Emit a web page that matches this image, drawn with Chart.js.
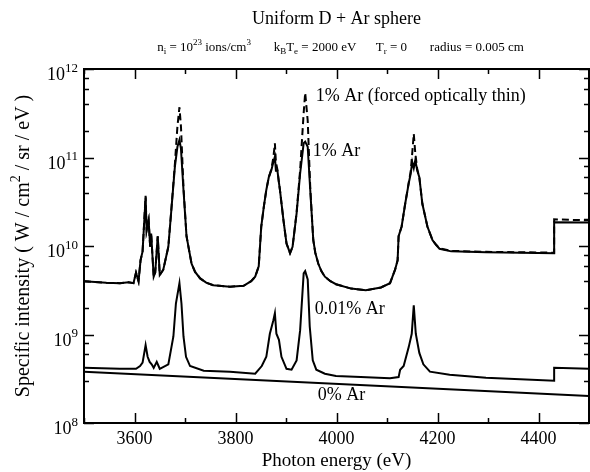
<!DOCTYPE html>
<html>
<head>
<meta charset="utf-8">
<script src="https://cdn.jsdelivr.net/npm/chart.js@4.4.0/dist/chart.umd.min.js"></script>
<style>
  html, body { margin: 0; padding: 0; background: #fff; }
  canvas { display: block; }
</style>
</head>
<body>
<canvas id="grafico" width="590" height="472"></canvas>
<script>
// 1% Ar: energias (eV) e intensidades (W / cm^2 / sr / eV)
const energias1 = [3500, 3544, 3571, 3588, 3598, 3603, 3608, 3612, 3616, 3622, 3624, 3628, 3631, 3633, 3638, 3641, 3646, 3650, 3657, 3667,
  3673, 3680, 3685, 3689, 3692, 3697, 3703, 3713, 3720, 3730, 3742, 3756, 3789, 3816, 3831, 3839, 3846, 3851, 3856, 3861,
  3866, 3871, 3875, 3878, 3880, 3883, 3886, 3888, 3895, 3901, 3908, 3913, 3921, 3928, 3935, 3938, 3943, 3948, 3954, 3958,
  3964, 3970, 3977, 3988, 3999, 4029, 4058, 4088, 4106, 4116, 4121, 4123, 4129, 4136, 4143, 4147, 4150, 4153, 4156, 4160,
  4164, 4170, 4180, 4190, 4197, 4204, 4227, 4296, 4431, 4431, 4500];
const ar1 = [4.0e9, 3.85e9, 3.8e9, 3.9e9, 3.8e9, 5.0e9, 4.0e9, 6.9e9, 8.7e9, 3.55e10, 1.5e10, 1.95e10, 9.8e9, 1.38e10, 4.5e9, 5.0e9, 1.29e10, 4.7e9, 5.4e9, 9.8e9,
  2.57e10, 7.9e10, 1.32e11, 1.58e11, 1.26e11, 4.3e10, 1.29e10, 6.3e9, 5.1e9, 4.3e9, 3.85e9, 3.6e9, 3.47e9, 3.55e9, 4.0e9, 4.5e9, 5.9e9, 1.66e10, 2.75e10, 4.3e10,
  6.0e10, 7.2e10, 8.9e10, 1.02e11, 7.1e10, 7.1e10, 5.2e10, 4.3e10, 1.95e10, 1.07e10, 8.3e9, 9.8e9, 2.34e10, 6.6e10, 1.45e11, 1.51e11, 1.32e11, 4.3e10, 1.17e10, 8.4e9,
  6.3e9, 5.2e9, 4.5e9, 4.0e9, 3.7e9, 3.3e9, 3.16e9, 3.4e9, 3.8e9, 5.4e9, 6.9e9, 1.29e10, 1.66e10, 3.0e10, 5.1e10, 6.6e10, 8.9e10, 7.6e10, 9.3e10, 7.1e10,
  6.0e10, 3.0e10, 1.66e10, 1.17e10, 1.03e10, 9.3e9, 8.7e9, 8.5e9, 8.3e9, 1.86e10, 1.84e10];
// 1% Ar (forzado opticamente delgado)
const ar1Delgado = [4.0e9, 3.85e9, 3.8e9, 3.9e9, 3.8e9, 5.0e9, 4.0e9, 6.9e9, 8.7e9, 3.7e10, 1.5e10, 1.95e10, 9.8e9, 1.38e10, 4.5e9, 5.0e9, 1.29e10, 4.7e9, 5.4e9, 9.8e9,
  2.6e10, 8.5e10, 2.24e11, 3.7e11, 2.24e11, 4.6e10, 1.29e10, 6.3e9, 5.1e9, 4.3e9, 3.85e9, 3.6e9, 3.47e9, 3.55e9, 4.0e9, 4.5e9, 5.9e9, 1.66e10, 2.75e10, 4.3e10,
  6.0e10, 7.4e10, 1.0e11, 1.45e11, 8.9e10, 7.3e10, 5.2e10, 4.3e10, 1.95e10, 1.07e10, 8.3e9, 9.8e9, 2.4e10, 7.2e10, 3.2e11, 5.4e11, 2.6e11, 4.6e10, 1.17e10, 8.4e9,
  6.3e9, 5.2e9, 4.5e9, 4.0e9, 3.7e9, 3.3e9, 3.16e9, 3.4e9, 3.8e9, 5.4e9, 6.9e9, 1.29e10, 1.66e10, 3.0e10, 5.2e10, 7.0e10, 1.12e11, 1.86e11, 1.12e11, 7.3e10,
  6.0e10, 3.0e10, 1.66e10, 1.17e10, 1.04e10, 9.4e9, 8.8e9, 8.6e9, 8.4e9, 2.0e10, 1.95e10];

// 0.01% Ar
const energias001 = [3500, 3571, 3603, 3611, 3616, 3622, 3626, 3630, 3634, 3638, 3644, 3650, 3667, 3677, 3682, 3689, 3693, 3697, 3702, 3710,
  3737, 3789, 3839, 3852, 3861, 3868, 3875, 3878, 3881, 3886, 3891, 3901, 3911, 3921, 3928, 3935, 3938, 3943, 3947, 3953,
  3960, 3977, 3999, 4048, 4106, 4123, 4126, 4133, 4143, 4149, 4153, 4157, 4164, 4172, 4185, 4224, 4296, 4431, 4431, 4500];
const ar001 = [4.2e8, 4.1e8, 4.1e8, 4.4e8, 4.8e8, 7.6e8, 5.6e8, 4.9e8, 4.6e8, 4.2e8, 4.9e8, 4.1e8, 4.6e8, 9.5e8, 2.24e9, 3.8e9, 2.24e9, 9.5e8, 5.6e8, 4.4e8,
  3.9e8, 3.8e8, 3.6e8, 4.4e8, 5.6e8, 1.02e9, 1.45e9, 1.74e9, 1.02e9, 8.7e8, 5.6e8, 4.1e8, 4.0e8, 5.1e8, 1.12e9, 4.9e9, 5.2e9, 4.2e9, 1.23e9, 5.1e8,
  4.0e8, 3.6e8, 3.4e8, 3.3e8, 3.2e8, 3.3e8, 4.0e8, 4.4e8, 7.2e8, 1.02e9, 2.14e9, 1.02e9, 6.2e8, 4.6e8, 3.8e8, 3.5e8, 3.24e8, 3.0e8, 4.2e8, 4.1e8];

// 0% Ar
const energias0 = [3500, 4500];
const ar0 = [3.8e8, 2.02e8];

// ejes
const ticksX = [3600, 3800, 4000, 4200, 4400];
const decadas = [8, 9, 10, 11, 12];

// textos junto a las curvas (coordenadas de datos)
const etiquetas = [
  { texto: "1% Ar (forced optically thin)", x: 3959, y: 4.95e11 },
  { texto: "1% Ar", x: 3953, y: 1.18e11 },
  { texto: "0.01% Ar", x: 3957, y: 1.94e9 },
  { texto: "0% Ar", x: 3963, y: 2.07e8 },
];

const puntos = (xs, ys) => xs.map((x, i) => ({ x: x, y: ys[i] }));

const serif = "'Liberation Serif', 'Times New Roman', serif";

// dibuja texto con subindices / superindices
const textoRico = (ctx, partes, x, y, size, align) => {
  const chico = Math.round(size * 0.7);
  let ancho = 0;
  partes.forEach((p) => {
    ctx.font = `${p.s ? chico : size}px ${serif}`;
    ancho += ctx.measureText(p.t).width;
  });
  let cx = align === "center" ? x - ancho / 2 : align === "right" ? x - ancho : x;
  ctx.textAlign = "left";
  ctx.textBaseline = "alphabetic";
  partes.forEach((p) => {
    ctx.font = `${p.s ? chico : size}px ${serif}`;
    let dy = 0;
    if (p.s === "sup") dy = -size * 0.45;
    if (p.s === "sub") dy = size * 0.25;
    ctx.fillText(p.t, cx, y + dy);
    cx += ctx.measureText(p.t).width;
  });
};

const marco = {
  id: "marco",
  afterDraw(chart) {
    const ctx = chart.ctx;
    const { left, right, top, bottom } = chart.chartArea;
    const sx = chart.scales.x;
    const sy = chart.scales.y;
    ctx.save();
    ctx.strokeStyle = "#000";
    ctx.fillStyle = "#000";

    // marco
    ctx.lineWidth = 2;
    ctx.strokeRect(left, top, right - left, bottom - top);

    // ticks hacia adentro
    ctx.lineWidth = 1.5;
    ctx.beginPath();
    sx.ticks.forEach((t) => {
      const px = Math.round(sx.getPixelForValue(t.value)) + 0.5;
      const largo = t.value % 200 === 0 ? 10 : 5;
      ctx.moveTo(px, bottom);
      ctx.lineTo(px, bottom - largo);
      ctx.moveTo(px, top);
      ctx.lineTo(px, top + largo);
    });
    sy.ticks.forEach((t) => {
      const lg = Math.log10(t.value);
      const mayor = Math.abs(lg - Math.round(lg)) < 1e-6;
      const py = Math.round(sy.getPixelForValue(t.value)) + 0.5;
      const largo = mayor ? 10 : 5;
      ctx.moveTo(left, py);
      ctx.lineTo(left + largo, py);
      ctx.moveTo(right, py);
      ctx.lineTo(right - largo, py);
    });
    ctx.stroke();

    // etiquetas eje x
    ctx.font = `18px ${serif}`;
    ctx.textAlign = "center";
    ctx.textBaseline = "middle";
    ticksX.forEach((v) => {
      ctx.fillText(String(v), sx.getPixelForValue(v), bottom + 16);
    });

    // etiquetas eje y (10^n)
    decadas.forEach((n) => {
      const py = sy.getPixelForValue(Math.pow(10, n));
      textoRico(ctx, [{ t: "10" }, { t: String(n), s: "sup" }], 78, py + 11, 18, "right");
    });

    // titulos
    const cx = (left + right) / 2;
    ctx.font = `18px ${serif}`;
    ctx.textAlign = "center";
    ctx.textBaseline = "alphabetic";
    ctx.fillText("Uniform D + Ar sphere", cx, 24);

    textoRico(ctx, [
      { t: "n" }, { t: "i", s: "sub" }, { t: " = 10" }, { t: "23", s: "sup" }, { t: " ions/cm" }, { t: "3", s: "sup" },
      { t: "       k" }, { t: "B", s: "sub" }, { t: "T" }, { t: "e", s: "sub" }, { t: " = 2000 eV" },
      { t: "      T" }, { t: "r", s: "sub" }, { t: " = 0" },
      { t: "       radius = 0.005 cm" },
    ], cx + 4, 51, 13, "center");

    ctx.font = `19px ${serif}`;
    ctx.textAlign = "center";
    ctx.fillText("Photon energy (eV)", cx, 466);

    ctx.save();
    ctx.translate(29, (top + bottom) / 2);
    ctx.rotate(-Math.PI / 2);
    textoRico(ctx, [
      { t: "Specific intensity ( W / cm" }, { t: "2", s: "sup" }, { t: " / sr / eV )" },
    ], 0, 0, 20, "center");
    ctx.restore();

    // textos de las curvas
    ctx.font = `18px ${serif}`;
    ctx.textAlign = "left";
    ctx.textBaseline = "middle";
    etiquetas.forEach((e) => {
      ctx.fillText(e.texto, sx.getPixelForValue(e.x), sy.getPixelForValue(e.y));
    });

    ctx.restore();
  },
};

const linea = (datos, dash) => ({
  data: datos,
  borderColor: "#000",
  borderWidth: 2,
  borderDash: dash,
  pointRadius: 0,
  tension: 0,
  fill: false,
});

new Chart(document.getElementById("grafico"), {
  type: "line",
  data: {
    datasets: [
      linea(puntos(energias1, ar1), []),
      linea(puntos(energias1, ar1Delgado), [7, 4]),
      linea(puntos(energias001, ar001), []),
      linea(puntos(energias0, ar0), []),
    ],
  },
  options: {
    responsive: false,
    animation: false,
    devicePixelRatio: 1,
    layout: { padding: { left: 84, right: 1, top: 69, bottom: 49 } },
    plugins: { legend: { display: false }, tooltip: { enabled: false } },
    scales: {
      x: {
        type: "linear",
        display: false,
        min: 3500,
        max: 4500,
        ticks: { stepSize: 100 },
      },
      y: {
        type: "logarithmic",
        display: false,
        min: 1e8,
        max: 1e12,
      },
    },
  },
  plugins: [marco],
});
</script>
</body>
</html>
